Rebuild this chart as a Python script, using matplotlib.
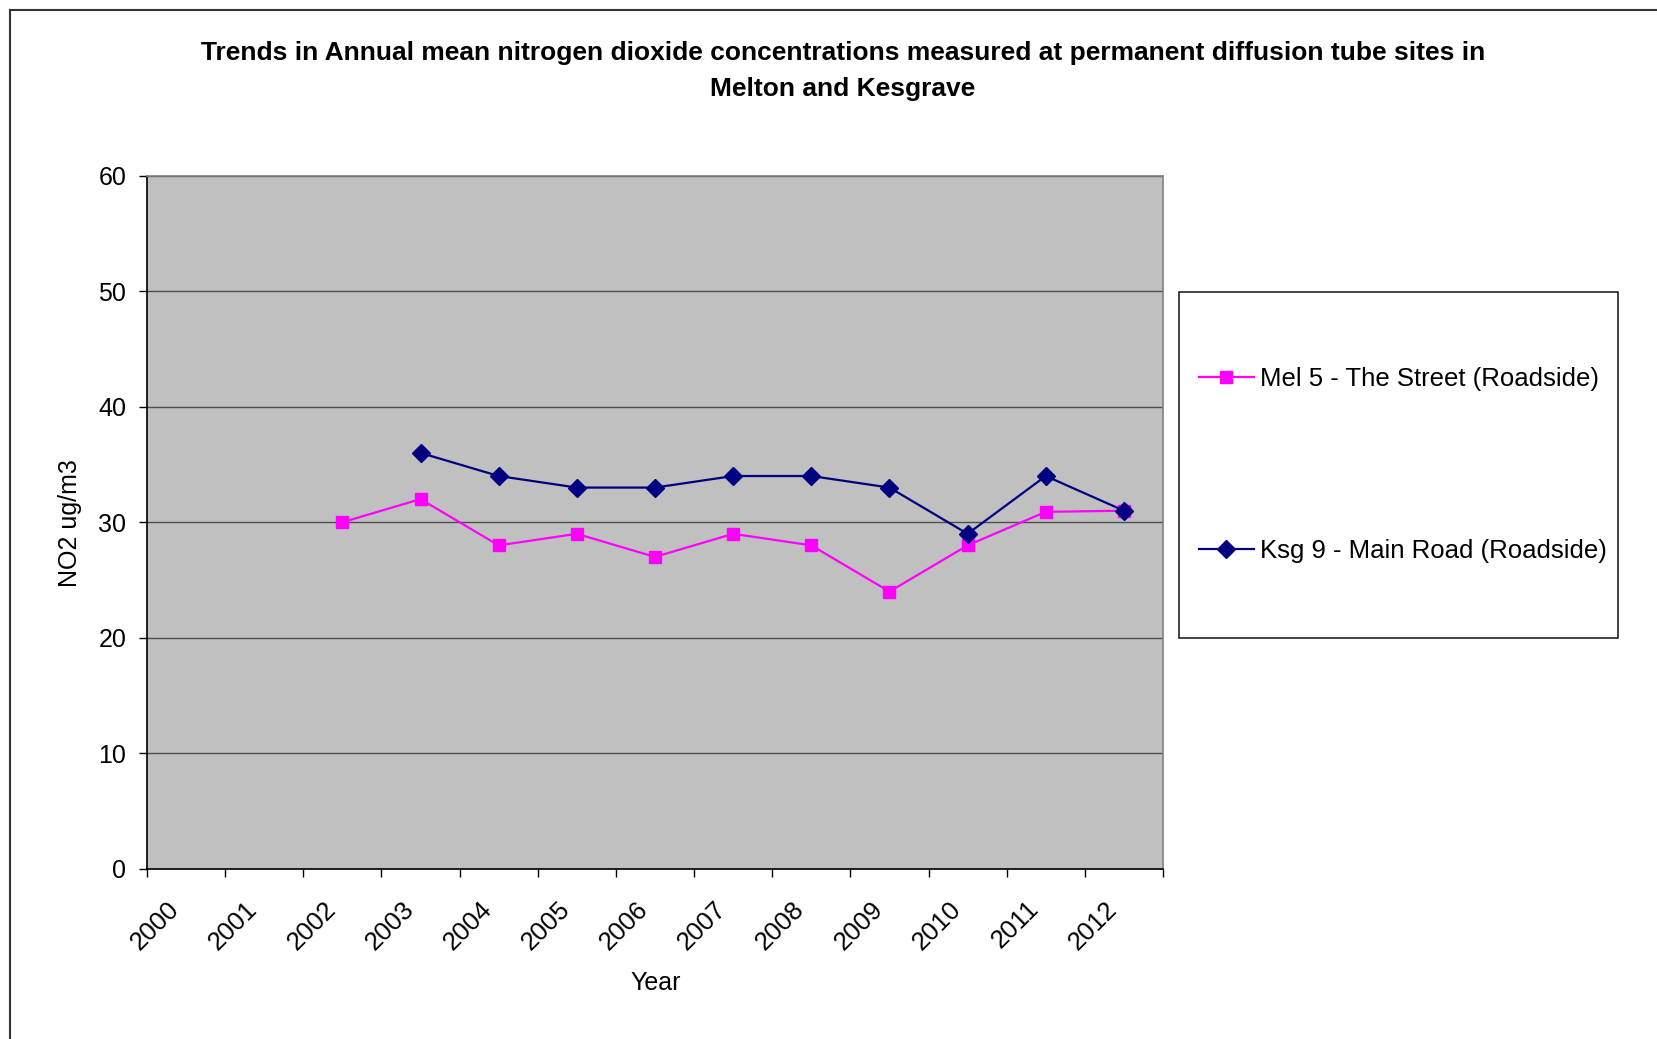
import matplotlib
matplotlib.use("Agg")
import matplotlib.pyplot as plt
from matplotlib.lines import Line2D
from matplotlib.patches import Rectangle
from matplotlib.transforms import ScaledTranslation
import numpy as np

years = ["2000", "2001", "2002", "2003", "2004", "2005", "2006",
         "2007", "2008", "2009", "2010", "2011", "2012"]
mel5 = [None, None, 30, 32, 28, 29, 27, 29, 28, 24, 28, 30.9, 31]
ksg9 = [None, None, None, 36, 34, 33, 33, 34, 34, 33, 29, 34, 31]
series_names = ["Mel 5 - The Street (Roadside)", "Ksg 9 - Main Road (Roadside)"]

W, H = 1658, 1039
DPI = 100
plt.rcParams["font.family"] = ["Liberation Sans", "DejaVu Sans"]

fig = plt.figure(figsize=(W / DPI, H / DPI), dpi=DPI)
fig.patch.set_facecolor("white")

# plot area in pixel coordinates
px_left, px_right, px_top, px_bottom = 147, 1163, 175.5, 869
ax = fig.add_axes([px_left / W, 1 - px_bottom / H,
                   (px_right - px_left) / W, (px_bottom - px_top) / H])
ax.set_facecolor("#C0C0C0")

x = np.arange(len(years))


def to_arr(vals):
    return np.array([np.nan if v is None else v for v in vals], dtype=float)


m = to_arr(mel5)
k = to_arr(ksg9)

l1, = ax.plot(x, m, color="#FF00FF", lw=1.6, marker="s", ms=8.5,
              markeredgecolor="#FF00FF", markerfacecolor="#FF00FF", zorder=3)
l2, = ax.plot(x, k, color="#000080", lw=1.6, marker="D", ms=9.2,
              markeredgecolor="#000080", markerfacecolor="#000080", zorder=4)

ax.set_xlim(-0.5, len(years) - 0.5)
ax.set_ylim(0, 60)
ax.set_yticks(np.arange(0, 61, 10))
ax.yaxis.grid(True, color="#4d4d4d", lw=1.0)
ax.set_axisbelow(True)

# category boundaries carry the ticks, labels sit on the centres
ax.set_xticks(np.arange(-0.5, len(years), 1.0))
ax.set_xticklabels([])
ax.set_xticks(x, minor=True)
ax.set_xticklabels(years, minor=True, rotation=45, ha="right", va="top",
                   rotation_mode="anchor", fontsize=18.5)
ax.tick_params(axis="x", which="minor", length=0, pad=20)
ax.tick_params(axis="x", which="major", length=6, width=1, direction="out", color="black")
ax.tick_params(axis="y", length=6, width=1, direction="out", pad=9, labelsize=18, color="black")
shift = ScaledTranslation(-19 / DPI, 0, fig.dpi_scale_trans)
for lab in ax.get_xticklabels(minor=True):
    lab.set_transform(lab.get_transform() + shift)

for side in ["top", "right"]:
    ax.spines[side].set_color("#808080")
    ax.spines[side].set_linewidth(1.2)
for side in ["left", "bottom"]:
    ax.spines[side].set_color("black")
    ax.spines[side].set_linewidth(1.2)

fig.text(70 / W, 1 - 523 / H, "NO2 ug/m3", rotation=90, ha="center", va="center", fontsize=18)
fig.text(656 / W, 1 - 983 / H, "Year", ha="center", va="center", fontsize=18)

fig.text(843 / W, 1 - 53 / H,
         "Trends in Annual mean nitrogen dioxide concentrations measured at permanent diffusion tube sites in",
         ha="center", va="center", fontsize=19, fontweight="bold")
fig.text(843 / W, 1 - 89 / H, "Melton and Kesgrave",
         ha="center", va="center", fontsize=19, fontweight="bold")

# legend box
fig.add_artist(Rectangle((1179 / W, 1 - 638 / H), (1618 - 1179) / W, (638 - 292) / H,
                         transform=fig.transFigure, facecolor="white",
                         edgecolor="#222222", lw=1.2, zorder=1))
leg = fig.legend([l1, l2], series_names, loc="center left",
                 bbox_to_anchor=(1199 / W, 1 - 465 / H), bbox_transform=fig.transFigure,
                 frameon=False, fontsize=18.5, numpoints=1, handlelength=2.14,
                 handletextpad=0.25, labelspacing=5.75, borderpad=0, borderaxespad=0)
leg.set_zorder(2)

# outer chart frame
fig.add_artist(Line2D([10 / W, 10 / W], [0, 1 - 10 / H], transform=fig.transFigure,
                      color="#333333", lw=1.5))
fig.add_artist(Line2D([10 / W, 1], [1 - 10 / H, 1 - 10 / H], transform=fig.transFigure,
                      color="#333333", lw=1.5))

fig.savefig("out.png", dpi=DPI)
